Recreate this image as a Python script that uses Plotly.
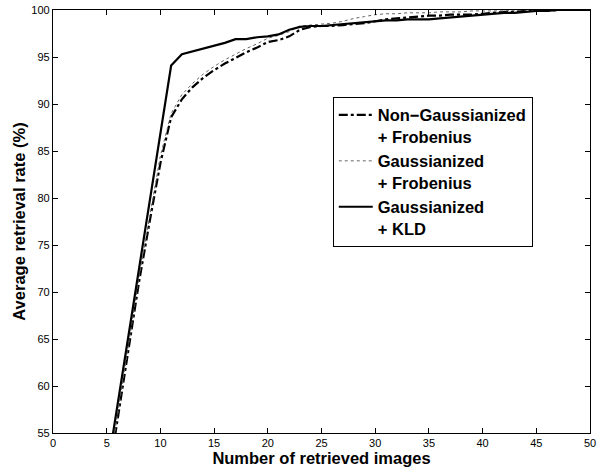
import plotly.graph_objects as go

x_vals = list(range(5, 51))

non_gauss_frob = [49.0, 56.5, 64.0, 71.0, 77.5, 83.7, 88.6, 90.5, 91.8, 92.8, 93.6, 94.3, 94.9, 95.5, 96.0, 96.6, 96.8, 97.2, 97.9, 98.2, 98.3,
                  98.3, 98.4, 98.5, 98.6, 98.8, 99.0, 99.1, 99.2, 99.3, 99.4, 99.4, 99.5, 99.5, 99.5, 99.6, 99.7, 99.8, 99.8, 99.9, 99.9, 99.9, 100.0, 100.0, 100.0, 100.0]
gauss_frob = [49.5, 57.0, 64.5, 71.5, 78.0, 84.5, 89.0, 91.0, 92.2, 93.2, 94.0, 94.7, 95.3, 95.9, 96.4, 97.0, 97.3, 97.7, 98.3, 98.4, 98.5,
              98.6, 98.8, 99.1, 99.3, 99.5, 99.6, 99.6, 99.7, 99.7, 99.7, 99.8, 99.8, 99.8, 99.9, 99.9, 99.9, 99.9, 100.0, 100.0, 100.0, 100.0, 100.0, 100.0, 100.0, 100.0]
gauss_kld = [50.7, 57.9, 65.2, 72.4, 79.6, 86.9, 94.1, 95.3, 95.6, 95.9, 96.2, 96.5, 96.9, 96.9, 97.1, 97.2, 97.4, 97.9, 98.2, 98.3, 98.3,
             98.4, 98.5, 98.6, 98.7, 98.8, 98.9, 98.9, 99.0, 99.0, 99.0, 99.1, 99.2, 99.3, 99.4, 99.5, 99.6, 99.7, 99.7, 99.8, 99.9, 99.9, 100.0, 100.0, 100.0, 100.0]

names = ["Non\u2212Gaussianized<br>+ Frobenius", "Gaussianized<br>+ Frobenius", "Gaussianized<br>+ KLD"]

fig = go.Figure()
fig.add_trace(go.Scatter(x=x_vals, y=non_gauss_frob, mode="lines", name=names[0],
                         line=dict(color="black", width=2.2, dash="dashdot")))
fig.add_trace(go.Scatter(x=x_vals, y=gauss_frob, mode="lines", name=names[1],
                         line=dict(color="#666666", width=1, dash="dot")))
fig.add_trace(go.Scatter(x=x_vals, y=gauss_kld, mode="lines", name=names[2],
                         line=dict(color="black", width=2.2)))

axis_common = dict(showgrid=False, zeroline=False, showline=True, linecolor="black", linewidth=1.3,
                   mirror="ticks", ticks="inside", ticklen=5, tickcolor="black", automargin=False,
                   tickfont=dict(family="Liberation Sans, Arial", size=11, color="black"))

title_font = dict(family="Liberation Sans, Arial", size=16.5, color="black")

fig.update_layout(
    width=611, height=468,
    paper_bgcolor="white", plot_bgcolor="white",
    margin=dict(l=53, r=21, t=10, b=35),
    xaxis=dict(range=[0, 50], dtick=5, tick0=0,
               title=dict(text="<b>Number of retrieved images</b>", font=title_font, standoff=1),
               **axis_common),
    yaxis=dict(range=[55, 100], dtick=5, tick0=55,
               title=dict(text="<b>Average retrieval rate (%)</b>", font=title_font, standoff=1),
               **axis_common),
    legend=dict(x=0.521, y=0.795, xanchor="left", yanchor="top",
                bgcolor="white", bordercolor="black", borderwidth=1,
                font=dict(family="Liberation Sans, Arial", size=16.5, color="black", weight="bold"),
                valign="top", itemwidth=34, tracegroupgap=0),
    showlegend=True,
)

fig.write_html("out.html", config={"displayModeBar": False},
               post_script="document.body.style.margin='0';document.body.style.overflow='hidden';")
